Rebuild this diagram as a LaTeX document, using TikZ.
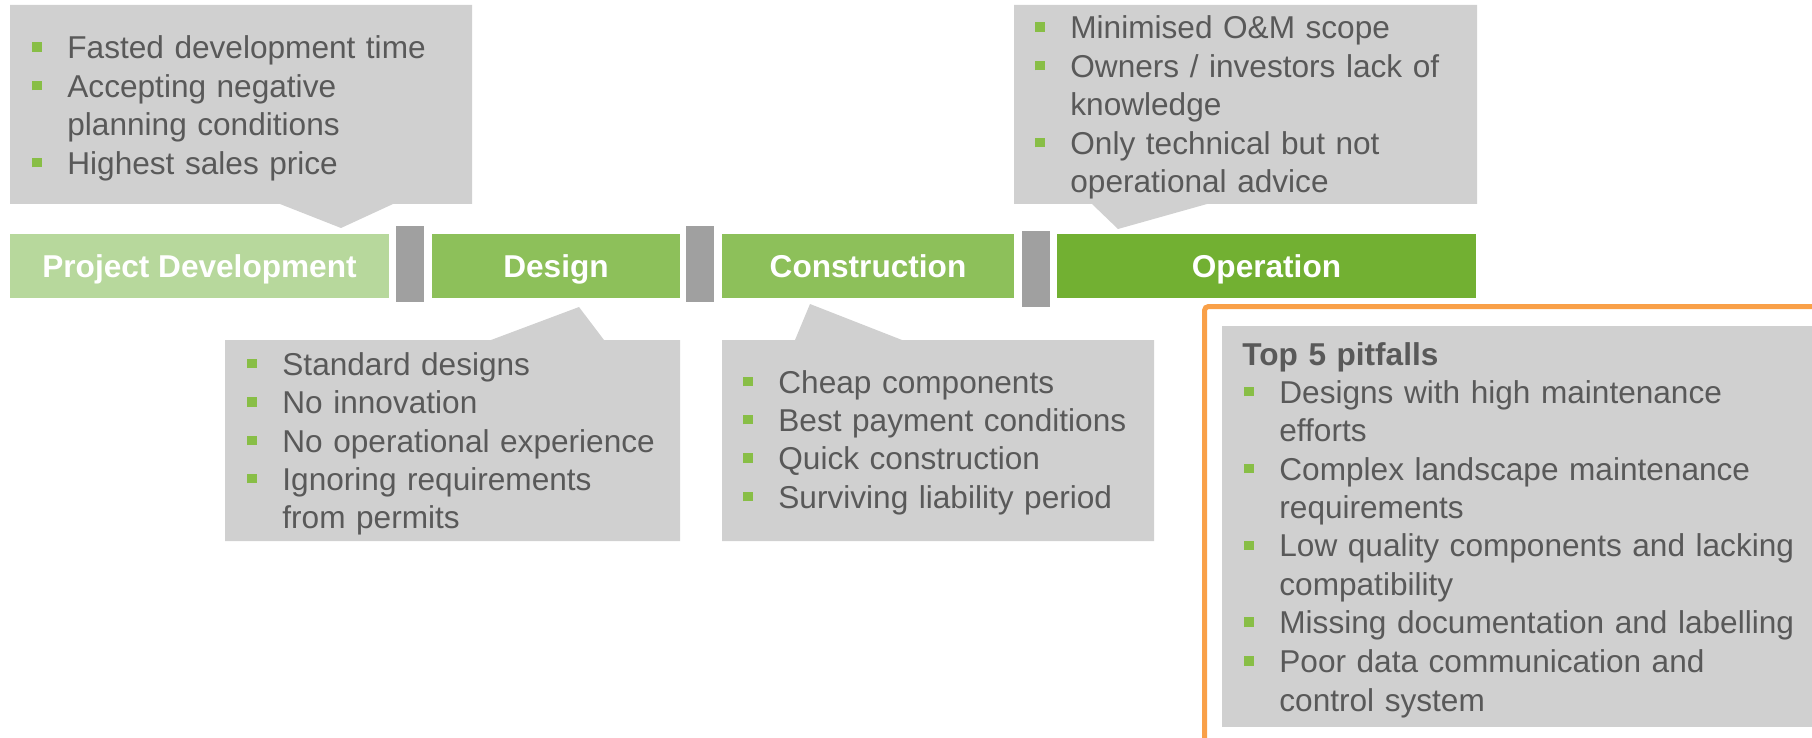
\documentclass[tikz,border=0pt]{standalone}
\usepackage{fontspec}
\setmainfont{Liberation Sans}
\definecolor{pdgreen}{RGB}{183,216,156}
\definecolor{midgreen}{RGB}{141,192,90}
\definecolor{opgreen}{RGB}{114,176,50}
\definecolor{bulgreen}{RGB}{136,190,70}
\definecolor{sepgray}{RGB}{160,160,160}
\definecolor{boxgray}{RGB}{208,208,208}
\definecolor{textgray}{RGB}{89,89,89}
\definecolor{pitorange}{RGB}{249,160,72}
\newcommand{\bl}{\leavevmode\llap{\makebox[17.5pt][l]{\textcolor{bulgreen}{\rule[3.5pt]{4.75pt}{4.75pt}}}}}
\tikzset{
    bar/.style={fill=#1, text=white, inner sep=0pt, minimum height=31.75pt,
        text height=11.3pt, text depth=0pt,
        font=\bfseries\fontsize{15.8}{19}\selectfont},
    seppost/.style={fill=sepgray},
    callout/.style={fill=boxgray},
    bullets/.style={anchor=base west, inner sep=0pt, text width=290pt, align=left,
        text=textgray, font=\fontsize{15.8}{19.25}\selectfont}
}

\begin{document}
\begin{tikzpicture}[x=0.5pt,y=-0.5pt]
    \useasboundingbox (0,0) rectangle (1812,738);

    \fill[callout] (10,5) -- (472,5) -- (472,204) -- (393,204) -- (341,228) -- (280,204) -- (10,204) -- cycle;
    \fill[callout] (1014,5) -- (1477,5) -- (1477,204) -- (1207,204) -- (1118,229) -- (1092,204) -- (1014,204) -- cycle;
    \fill[callout] (225,340) -- (491,340) -- (579,307) -- (604,340) -- (680,340) -- (680,541) -- (225,541) -- cycle;
    \fill[callout] (722,340) -- (795,340) -- (810,304) -- (902,340) -- (1154,340) -- (1154,541) -- (722,541) -- cycle;

    \node[bar=pdgreen, minimum width=189.5pt] (pd) at (199.5,265.75) {Project Development};
    \node[bar=midgreen, minimum width=124pt] (design) at (556,265.75) {Design};
    \node[bar=midgreen, minimum width=146pt] (constr) at (868,265.75) {Construction};
    \node[bar=opgreen, minimum width=209.5pt] (oper) at (1266.5,265.75) {Operation};

    \fill[seppost] (396,226) rectangle (424,302);
    \fill[seppost] (686,226) rectangle (714,302);
    \fill[seppost] (1022,231) rectangle (1050,307);

    \node[bullets] (pdtext) at (67,59) {\bl Fasted development time\\
        \bl Accepting negative\\ planning conditions\\
        \bl Highest sales price};
    \node[bullets] (optext) at (1070,39) {\bl Minimised O\&M scope\\
        \bl Owners / investors lack of\\ knowledge\\
        \bl Only technical but not\\ operational advice};
    \node[bullets] (designtext) at (282,375) {\bl Standard designs\\
        \bl No innovation\\
        \bl No operational experience\\
        \bl Ignoring requirements\\ from permits};
    \node[bullets] (constrtext) at (778,393) {\bl Cheap components\\
        \bl Best payment conditions\\
        \bl Quick construction\\
        \bl Surviving liability period};

    \begin{scope}
        \clip (0,0) rectangle (1812,738);
        \draw[pitorange, line width=2.5pt, rounded corners=2pt] (1204.5,760) -- (1204.5,306.5) -- (1830,306.5);
        \fill[callout] (1222,326) rectangle (1812,727);
    \end{scope}
    \node[bullets, font=\bfseries\fontsize{15.8}{19.25}\selectfont] (pittitle) at (1242,365) {Top 5 pitfalls};
    \node[bullets] (pittext) at (1279,403) {\bl Designs with high maintenance\\ efforts\\
        \bl Complex landscape maintenance\\ requirements\\
        \bl Low quality components and lacking\\ compatibility\\
        \bl Missing documentation and labelling\\
        \bl Poor data communication and\\ control system};
\end{tikzpicture}
\end{document}
